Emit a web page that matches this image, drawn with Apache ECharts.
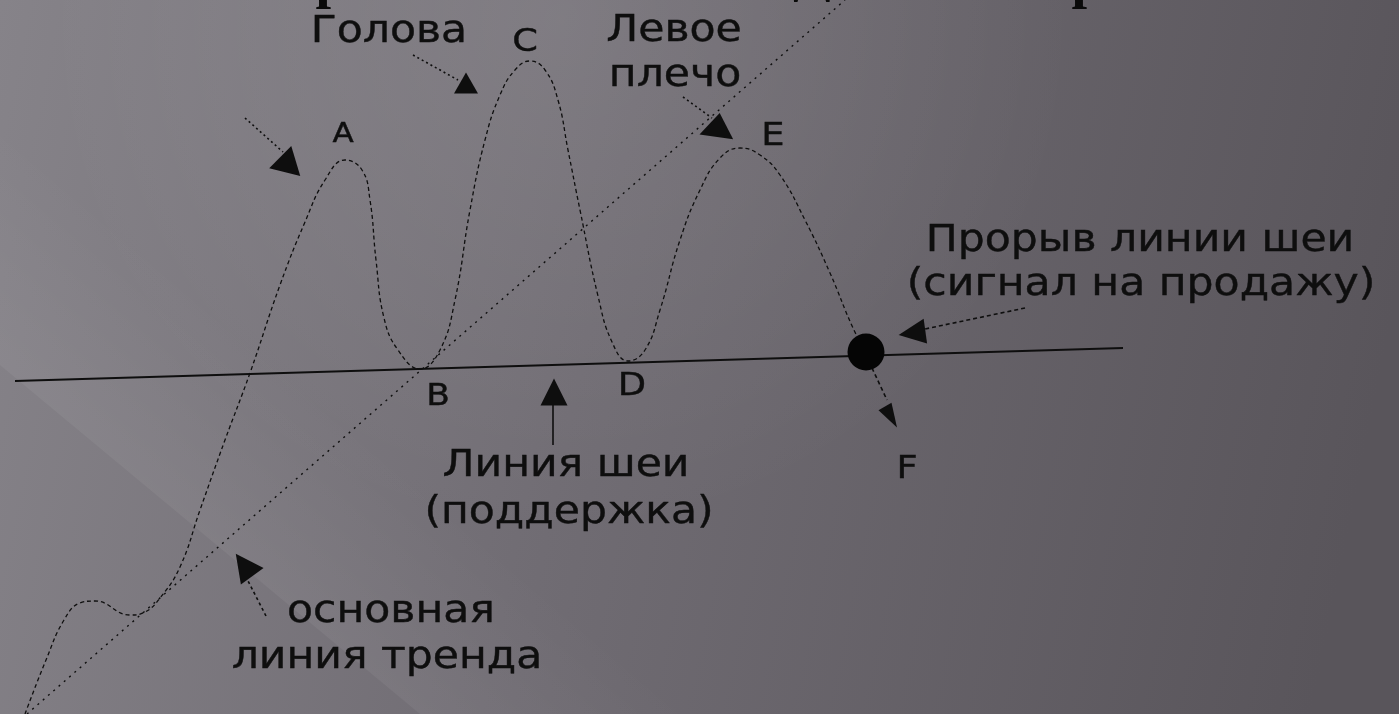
<!DOCTYPE html>
<html><head><meta charset="utf-8">
<script src="https://cdn.jsdelivr.net/npm/echarts@6/dist/echarts.min.js"></script>
<style>html,body{margin:0;padding:0;background:#6e6a70;overflow:hidden}#c{width:1399px;height:714px}</style>
</head><body><div id="c"></div><script>
// price path (x, y in picture units; y grows downward)
const priceX = [25,46,64,80,95,130,145,160,180,200,225,250,280,305,325,345,362,370,376,384,398,420,440,455,470,485,500,515,530,545,558,568,580,598,612,628,645,660,680,700,720,740,760,780,805,830,853,866];
const priceY = [714,660,620,603,601,615,612,598,567,510,440,373,285,222,180,160,170,200,260,318,350,369,350,300,210,140,95,70,61,70,100,150,210,296,342,361,350,310,240,190,158,148,155,175,220,273,328,352];
// neckline and main trend line
const necklineX = [15, 1123];
const necklineY = [381, 348];
const trendX = [27, 845];
const trendY = [714, 0];
// breakout point
const breakoutX = [866];
const breakoutY = [352];
// annotation arrows: shaft start, shaft end, head position
const arrowFromX = [245, 413, 683, 553, 1025, 872, 266];
const arrowFromY = [118, 55, 97, 445, 308, 368, 616];
const arrowToX = [283, 458, 712, 553, 920, 887, 246];
const arrowToY = [152, 80, 118, 405, 330, 400, 577];
const headX = [288, 466, 718, 554, 912, 891, 244];
const headY = [159, 83, 125, 392, 333, 417, 565];
// annotation texts
const labelTexts = ['Голова','C','Левое','плечо','A','E','B','D','F','Прорыв линии шеи','(сигнал на продажу)','Линия шеи','(поддержка)','основная','линия тренда'];
const labelX = [389, 525, 674, 675, 343, 773, 438, 632, 907, 1140, 1141, 566, 569, 391, 387];
const labelBaseY = [45, 54, 44, 89, 144, 148, 408, 398, 481, 254, 298, 479, 526, 625, 671];

// ---- styles ----
const labelFont = [37,32,37,37,27,32,30,32,32,37,37,37,37,37,37];
const headRotate = [-14, 0, -8, 0, 98, 210, 36];
const headSize = [[32,27],[24,21],[34,24],[27,27],[25,27],[15,24],[28,28]];
const shaftDash = [[2,3],[2,3],[2,3],'solid',[4,3],[4,3],[3,3]];
const ink = '#0e0e0e';

const chart = echarts.init(document.getElementById('c'), null, {renderer:'canvas'});

const series = [];
series.push({type:'line', data: priceX.map((x,i)=>[x, priceY[i]]), symbol:'none', smooth:0.45,
  lineStyle:{color:ink, width:1.3, type:[4,3]}, z:3, silent:true});
series.push({type:'line', data: necklineX.map((x,i)=>[x, necklineY[i]]), symbol:'none',
  lineStyle:{color:ink, width:2}, z:3, silent:true});
series.push({type:'line', data: trendX.map((x,i)=>[x, trendY[i]]), symbol:'none',
  lineStyle:{color:ink, width:1.4, type:[2,5]}, z:3, silent:true});
arrowFromX.forEach((x,i)=>{
  series.push({type:'line', data:[[x, arrowFromY[i]],[arrowToX[i], arrowToY[i]]], symbol:'none',
    lineStyle:{color:ink, width:1.6, type:shaftDash[i]}, z:3, silent:true});
});
series.push({type:'scatter', data: headX.map((x,i)=>({value:[x, headY[i]], symbol:'triangle', symbolRotate:headRotate[i], symbolSize:headSize[i]})),
  itemStyle:{color:ink, opacity:1}, z:4, silent:true});
series.push({type:'scatter', data: breakoutX.map((x,i)=>[x, breakoutY[i]]), symbol:'circle', symbolSize:37,
  itemStyle:{color:'#050505', opacity:1}, z:5, silent:true});

const bg = [
  {type:'rect', z:-100, shape:{x:0,y:0,width:1399,height:714},
   style:{fill:new echarts.graphic.LinearGradient(0,0,1,0.4,[
     {offset:0,color:'#868389'},{offset:0.45,color:'#706c73'},{offset:1,color:'#59555b'}])}},
  {type:'circle', z:-99, shape:{cx:560,cy:20,r:520},
   style:{fill:new echarts.graphic.RadialGradient(0.5,0.5,0.5,[
     {offset:0,color:'rgba(255,255,255,0.09)'},{offset:1,color:'rgba(255,255,255,0)'}])}},
  {type:'polygon', z:-98, shape:{points:[[0,365],[420,714],[1100,714],[0,-300]]},
   style:{fill:new echarts.graphic.LinearGradient(210,540,330,400,[
     {offset:0,color:'rgba(255,255,255,0.05)'},{offset:1,color:'rgba(255,255,255,0)'}], true)}}
];

chart.setOption({
  animation:false,
  backgroundColor:'transparent',
  grid:{left:0,right:0,top:0,bottom:0},
  xAxis:{type:'value', min:0, max:1399, show:false},
  yAxis:{type:'value', min:0, max:714, inverse:true, show:false},
  series: series
});

const texts = labelTexts.map((t,i)=>{
  const p = chart.convertToPixel({gridIndex:0}, [labelX[i], labelBaseY[i]]);
  const fs = labelFont[i];
  return {type:'text', z:100, x:p[0], y:p[1] - 0.346*fs, scaleX:1.15, silent:true,
    style:{text:t, fill:ink, stroke:ink, lineWidth:0.4, font:'normal '+fs+'px "DejaVu Sans"', textAlign:'center', textVerticalAlign:'middle', align:'center', verticalAlign:'middle'}};
});
// cut-off title glyphs at the top edge
const titleFrag = [['р',331,1],['Д',812,-6],['р',1087,1]].map(f=>({type:'text', z:100, x:f[1], y:f[2]-0.3375*56, silent:true,
  style:{text:f[0], fill:'#0a0a0a', font:'bold 56px "Liberation Serif"', textAlign:'center', textVerticalAlign:'middle', align:'center', verticalAlign:'middle'}}));

chart.setOption({graphic:[{elements: bg.concat(texts, titleFrag)}]});
</script></body></html>
